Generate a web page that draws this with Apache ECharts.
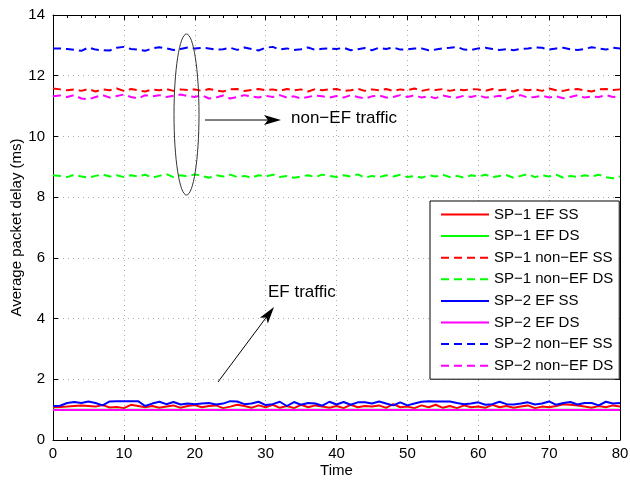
<!DOCTYPE html>
<html>
<head>
<meta charset="utf-8">
<script src="https://cdn.jsdelivr.net/npm/echarts@6/dist/echarts.min.js"></script>
<style>html,body{margin:0;padding:0;background:#fff}#c{width:630px;height:482px}</style>
</head>
<body>
<div id="c"></div>
<script>
var times = [0,1,2,3,4,5,6,7,8,9,10,11,12,13,14,15,16,17,18,19,20,21,22,23,24,25,26,27,28,29,30,31,32,33,34,35,36,37,38,39,40,41,42,43,44,45,46,47,48,49,50,51,52,53,54,55,56,57,58,59,60,61,62,63,64,65,66,67,68,69,70,71,72,73,74,75,76,77,78,79,80];

var sp1EfSS = [1.08,1.09,1.10,1.12,1.14,1.12,1.10,1.15,1.07,1.09,
1.05,1.16,1.12,1.08,1.12,1.06,1.10,1.14,1.06,1.12,
1.15,1.08,1.12,1.14,1.05,1.10,1.16,1.12,1.06,1.14,
1.08,1.16,1.06,1.12,1.05,1.16,1.08,1.14,1.10,1.06,
1.12,1.05,1.16,1.08,1.12,1.10,1.14,1.06,1.18,1.08,
1.10,1.05,1.14,1.08,1.16,1.06,1.12,1.05,1.14,1.08,
1.10,1.06,1.16,1.08,1.12,1.06,1.10,1.14,1.05,1.10,
1.08,1.12,1.18,1.16,1.14,1.10,1.06,1.12,1.08,1.14,
1.10];

var sp1EfDS = [1.00,1.00,1.00,1.00,1.00,1.00,1.00,1.00,1.00,1.00,
1.00,1.00,1.00,1.00,1.00,1.00,1.00,1.00,1.00,1.00,
1.00,1.00,1.00,1.00,1.00,1.00,1.00,1.00,1.00,1.00,
1.00,1.00,1.00,1.00,1.00,1.00,1.00,1.00,1.00,1.00,
1.00,1.00,1.00,1.00,1.00,1.00,1.00,1.00,1.00,1.00,
1.00,1.00,1.00,1.00,1.00,1.00,1.00,1.00,1.00,1.00,
1.00,1.00,1.00,1.00,1.00,1.00,1.00,1.00,1.00,1.00,
1.00,1.00,1.00,1.00,1.00,1.00,1.00,1.00,1.00,1.00,
1.00];

var sp1NonEfSS = [11.58,11.55,11.52,11.55,11.50,11.56,11.48,11.55,11.52,11.58,
11.50,11.56,11.52,11.48,11.55,11.52,11.56,11.50,11.55,11.53,
11.55,11.50,11.56,11.52,11.48,11.55,11.56,11.50,11.53,11.56,
11.52,11.55,11.50,11.56,11.52,11.55,11.48,11.56,11.52,11.55,
11.56,11.50,11.52,11.57,11.50,11.55,11.52,11.56,11.50,11.55,
11.52,11.58,11.50,11.55,11.53,11.56,11.50,11.55,11.52,11.56,
11.55,11.50,11.56,11.52,11.55,11.48,11.56,11.52,11.55,11.50,
11.58,11.52,11.50,11.55,11.56,11.52,11.48,11.55,11.56,11.53,
11.55];

var sp1NonEfDS = [8.72,8.70,8.66,8.74,8.68,8.64,8.70,8.75,8.68,8.72,
8.66,8.72,8.68,8.74,8.64,8.70,8.76,8.66,8.72,8.68,
8.75,8.70,8.64,8.72,8.68,8.74,8.66,8.70,8.64,8.72,
8.68,8.74,8.66,8.70,8.64,8.68,8.72,8.66,8.74,8.70,
8.66,8.72,8.68,8.75,8.64,8.70,8.66,8.72,8.68,8.74,
8.66,8.70,8.64,8.72,8.68,8.74,8.66,8.70,8.64,8.72,
8.68,8.74,8.66,8.70,8.72,8.64,8.70,8.76,8.66,8.72,
8.68,8.74,8.64,8.70,8.66,8.72,8.68,8.74,8.66,8.62,
8.68];

var sp2EfSS = [1.12,1.13,1.22,1.25,1.22,1.27,1.22,1.14,1.27,1.28,
1.28,1.28,1.28,1.12,1.20,1.26,1.18,1.25,1.17,1.20,
1.18,1.20,1.22,1.17,1.20,1.28,1.27,1.18,1.20,1.26,
1.15,1.18,1.26,1.12,1.25,1.16,1.22,1.20,1.13,1.26,
1.17,1.25,1.16,1.24,1.24,1.20,1.27,1.20,1.14,1.24,
1.14,1.20,1.26,1.28,1.27,1.27,1.27,1.22,1.18,1.20,
1.24,1.16,1.18,1.26,1.18,1.17,1.20,1.24,1.17,1.20,
1.27,1.16,1.22,1.25,1.17,1.22,1.22,1.14,1.26,1.20,
1.22];

var sp2EfDS = [0.99,0.99,0.99,0.99,0.99,0.99,0.99,0.99,0.99,0.99,
0.99,0.99,0.99,0.99,0.99,0.99,0.99,0.99,0.99,0.99,
0.99,0.99,0.99,0.99,0.99,0.99,0.99,0.99,0.99,0.99,
0.99,0.99,0.99,0.99,0.99,0.99,0.99,0.99,0.99,0.99,
0.99,0.99,0.99,0.99,0.99,0.99,0.99,0.99,0.99,0.99,
0.99,0.99,0.99,0.99,0.99,0.99,0.99,0.99,0.99,0.99,
0.99,0.99,0.99,0.99,0.99,0.99,0.99,0.99,0.99,0.99,
0.99,0.99,0.99,0.99,0.99,0.99,0.99,0.99,0.99,0.99,
0.99];

var sp2NonEfSS = [12.90,12.90,12.88,12.85,12.82,12.93,12.86,12.84,12.83,12.92,
12.95,12.88,12.86,12.82,12.90,12.94,12.90,12.85,12.88,12.93,
12.90,12.92,12.90,12.86,12.87,12.92,12.85,12.93,12.88,12.83,
12.92,12.95,12.86,12.90,12.85,12.87,12.93,12.85,12.89,12.90,
12.88,12.92,12.84,12.87,12.91,12.84,12.92,12.88,12.93,12.86,
12.87,12.90,12.90,12.84,12.86,12.90,12.92,12.95,12.86,12.85,
12.90,12.92,12.88,12.85,12.87,12.84,12.88,12.90,12.93,12.92,
12.86,12.90,12.92,12.87,12.85,12.88,12.94,12.90,12.86,12.92,
12.90];

var sp2NonEfDS = [11.32,11.35,11.30,11.36,11.25,11.22,11.30,11.36,11.28,11.33,
11.38,11.30,11.25,11.36,11.32,11.36,11.30,11.34,11.38,11.33,
11.30,11.36,11.25,11.28,11.35,11.25,11.30,11.36,11.32,11.28,
11.34,11.30,11.36,11.28,11.32,11.25,11.30,11.35,11.32,11.28,
11.33,11.28,11.36,11.30,11.25,11.32,11.35,11.28,11.30,11.36,
11.30,11.36,11.28,11.32,11.26,11.35,11.30,11.28,11.34,11.30,
11.36,11.28,11.30,11.34,11.25,11.32,11.36,11.28,11.30,11.34,
11.28,11.32,11.26,11.30,11.36,11.28,11.32,11.30,11.36,11.30,
11.33];

var seriesNames = ['SP\u22121 EF SS','SP\u22121 EF DS','SP\u22121 non\u2212EF SS','SP\u22121 non\u2212EF DS',
                   'SP\u22122 EF SS','SP\u22122 EF DS','SP\u22122 non\u2212EF SS','SP\u22122 non\u2212EF DS'];
var xTickLabels = ['0','10','20','30','40','50','60','70','80'];
var yTickLabels = ['0','2','4','6','8','10','12','14'];

var FONT = '"Liberation Sans", Arial, Helvetica, sans-serif';
var dataSets = [sp1EfSS, sp1EfDS, sp1NonEfSS, sp1NonEfDS, sp2EfSS, sp2EfDS, sp2NonEfSS, sp2NonEfDS];
var colors = ['#ff0000','#00ff00','#ff0000','#00ff00','#0000ff','#ff00ff','#0000ff','#ff00ff'];
var dashed = [false,false,true,true,false,false,true,true];

var series = dataSets.map(function (arr, i) {
  return {
    name: seriesNames[i],
    type: 'line',
    symbol: 'none',
    data: times.map(function (t, k) { return [t, arr[k]]; }),
    lineStyle: { color: colors[i], width: 2, type: dashed[i] ? [8, 5] : 'solid' },
    itemStyle: { color: colors[i] },
    z: 3
  };
});

function arrowHead(x1, y1, x2, y2, len, half, notch) {
  var dx = x2 - x1, dy = y2 - y1, L = Math.sqrt(dx * dx + dy * dy);
  var ux = dx / L, uy = dy / L, px = -uy, py = ux;
  return [[x2, y2],
          [x2 - ux * len + px * half, y2 - uy * len + py * half],
          [x2 - ux * (len - notch), y2 - uy * (len - notch)],
          [x2 - ux * len - px * half, y2 - uy * len - py * half]];
}

var chart = echarts.init(document.getElementById('c'), null, { renderer: 'canvas' });
var axisLineStyle = { color: '#000', width: 1 };
var option = {
  animation: false,
  backgroundColor: '#fff',
  textStyle: { fontFamily: FONT },
  grid: { left: 53, right: 10, top: 15, bottom: 42, containLabel: false, outerBoundsMode: 'none' },
  xAxis: [{
    type: 'value', min: 0, max: 80, interval: 10, position: 'bottom',
    name: 'Time', nameLocation: 'middle', nameGap: 23, nameMoveOverlap: false,
    nameTextStyle: { color: '#000', fontSize: 15, fontFamily: FONT },
    axisLine: { show: true, lineStyle: axisLineStyle },
    axisTick: { show: true, inside: true, length: 5, lineStyle: axisLineStyle },
    minorTick: { show: true, splitNumber: 5, length: 3, lineStyle: { color: '#000' } },
    axisLabel: { color: '#000', fontSize: 15, margin: 6, fontFamily: FONT,
      formatter: function (v) { return xTickLabels[Math.round(v / 10)]; } },
    splitLine: { show: true, lineStyle: { color: '#aaaaaa', type: [1, 4], width: 1 } }
  }, {
    type: 'value', min: 0, max: 80, interval: 10, position: 'top',
    axisLine: { show: true, onZero: false, lineStyle: axisLineStyle },
    axisTick: { show: true, inside: true, length: 5, lineStyle: axisLineStyle },
    minorTick: { show: true, splitNumber: 5, length: 3, lineStyle: { color: '#000' } },
    axisLabel: { show: false }, splitLine: { show: false }
  }],
  yAxis: [{
    type: 'value', min: 0, max: 14, interval: 2, position: 'left',
    name: 'Average packet delay (ms)', nameLocation: 'middle', nameGap: 29, nameMoveOverlap: false,
    nameTextStyle: { color: '#000', fontSize: 15, fontFamily: FONT },
    axisLine: { show: true, lineStyle: axisLineStyle },
    axisTick: { show: true, inside: true, length: 5, lineStyle: axisLineStyle },
    axisLabel: { color: '#000', fontSize: 15, margin: 8, fontFamily: FONT,
      formatter: function (v) { return yTickLabels[Math.round(v / 2)]; } },
    splitLine: { show: true, lineStyle: { color: '#aaaaaa', type: [1, 4], width: 1 } }
  }, {
    type: 'value', min: 0, max: 14, interval: 2, position: 'right',
    axisLine: { show: true, onZero: false, lineStyle: axisLineStyle },
    axisTick: { show: true, inside: true, length: 5, lineStyle: axisLineStyle },
    axisLabel: { show: false }, splitLine: { show: false }
  }],
  legend: {
    orient: 'vertical', left: 430, top: 201,
    data: seriesNames,
    backgroundColor: '#fff', borderColor: '#000', borderWidth: 1,
    padding: [6, 6, 6, 10], itemGap: 6.6, itemWidth: 48, itemHeight: 14,
    itemStyle: { opacity: 0 },
    textStyle: { color: '#000', fontSize: 15, fontFamily: FONT },
    selectedMode: false, z: 10
  },
  series: series,
  graphic: [
    { type: 'ellipse', shape: { cx: 186.5, cy: 114.5, rx: 12.5, ry: 80.5 },
      style: { fill: 'none', stroke: '#333', lineWidth: 1 }, z: 20 },
    { type: 'line', shape: { x1: 205, y1: 120, x2: 270, y2: 120 },
      style: { stroke: '#000', lineWidth: 1 }, z: 20 },
    { type: 'polygon', shape: { points: arrowHead(205, 120, 281, 120, 17, 5, 4) },
      style: { fill: '#000' }, z: 20 },
    { type: 'text', left: 291, top: 110,
      style: { text: 'non\u2212EF traffic', fill: '#000', font: '17px ' + FONT }, z: 20 },
    { type: 'line', shape: { x1: 218, y1: 382, x2: 268, y2: 315 },
      style: { stroke: '#000', lineWidth: 1 }, z: 20 },
    { type: 'polygon', shape: { points: arrowHead(218, 382, 274, 307, 17, 5, 4) },
      style: { fill: '#000' }, z: 20 },
    { type: 'text', left: 268, top: 284,
      style: { text: 'EF traffic', fill: '#000', font: '17px ' + FONT }, z: 20 }
  ]
};
chart.setOption(option);
</script>
</body>
</html>
